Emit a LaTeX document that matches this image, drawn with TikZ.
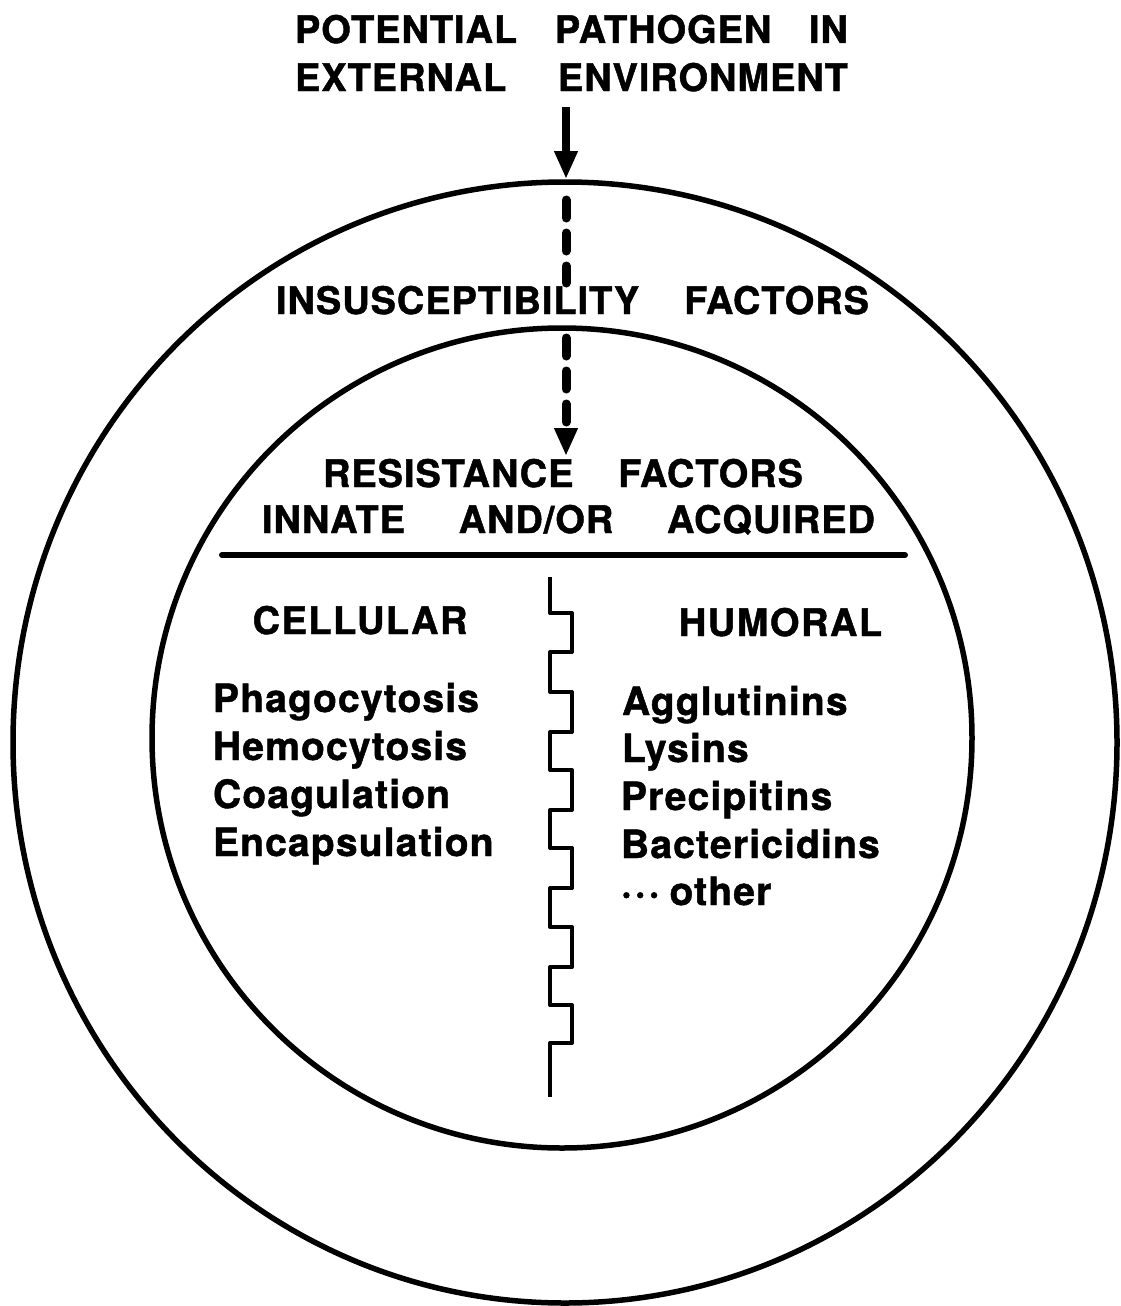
\documentclass[tikz,border=0pt]{standalone}
\usepackage{fontspec}
\setmainfont{TeX Gyre Heros}
\usetikzlibrary{arrows.meta}
\newcommand{\capsfnt}{\fontsize{38}{42}\selectfont\bfseries\addfontfeatures{LetterSpace=2.5,FakeBold=1.2}}
\newcommand{\headfnt}{\fontsize{38}{42}\selectfont\bfseries\addfontfeatures{LetterSpace=4,FakeBold=1.2}}
\newcommand{\listfnt}{\fontsize{39}{43}\selectfont\bfseries\addfontfeatures{LetterSpace=3,FakeBold=1.2}}
\begin{document}
\begin{tikzpicture}[x=1pt,y=-1pt,
  every node/.style={inner sep=0pt,outer sep=0pt},
  caps/.style={font=\capsfnt,anchor=base},
  head/.style={font=\headfnt,anchor=base},
  item/.style={font=\listfnt,anchor=base west},
  ring/.style={line width=5.5pt},
  solidarrow/.style={line width=8pt,-{Triangle[width=22pt,length=28pt]}},
  dashseg/.style={line width=9pt,line cap=round,dash pattern=on 18pt off 15pt},
  dasharrow/.style={line width=9pt,line cap=round,dash pattern=on 18pt off 15pt,-{Triangle[width=22pt,length=28pt]}},
  zig/.style={line width=4pt,line join=round}]
\useasboundingbox (0,0) rectangle (1120,1306);
% circles
\draw[ring] (565,742.5) ellipse [x radius=552pt, y radius=560.5pt];
\draw[ring] (562,738) ellipse [x radius=410pt, y radius=410pt];
% titles
\node[caps] (t1) at (571.5,43) {\makebox[553pt][s]{POTENTIAL PATHOGEN IN}};
\node[caps] (t2) at (571.5,91) {\makebox[553pt][s]{EXTERNAL ENVIRONMENT}};
\node[caps] (ins) at (572.5,314) {\makebox[593pt][s]{INSUSCEPTIBILITY FACTORS}};
\node[caps] (res1) at (563,487) {\makebox[480pt][s]{RESISTANCE FACTORS}};
\node[caps] (res2) at (568.5,533) {\makebox[613pt][s]{INNATE AND/OR ACQUIRED}};
% divider
\coordinate (divL) at (222,555);
\coordinate (divR) at (905,555);
\draw[line width=6pt,line cap=round] (divL) -- (divR);
% column heads
\node[head] (cel) at (360,634) {CELLULAR};
\node[head] (hum) at (780.5,636) {HUMORAL};
% lists
\node[item] (l1) at (213,712) {Phagocytosis};
\node[item] (l2) at (213,760) {Hemocytosis};
\node[item] (l3) at (213,808) {Coagulation};
\node[item] (l4) at (213,856) {Encapsulation};
\node[item] (r1) at (622,715) {Agglutinins};
\node[item] (r2) at (622,762) {Lysins};
\node[item] (r3) at (621,810) {Precipitins};
\node[item] (r4) at (621,858) {Bactericidins};
\node[item] (r5) at (621,905) {·\hspace{3pt}·\hspace{3pt}·\hspace{10pt}other};
% arrows
\coordinate (a0) at (566,107);
\coordinate (a1) at (566,179);
\coordinate (d0) at (566,200);
\coordinate (d1) at (566,283);
\coordinate (e0) at (566,338);
\coordinate (e1) at (566,456);
\draw[solidarrow] (a0) -- (a1);
\draw[dashseg] (d0) -- (d1);
\draw[dasharrow] (e0) -- (e1);
% zigzag separator
\coordinate (zTop) at (550,577);
\coordinate (zBot) at (550,1097);
\draw[zig] (zTop) -- (550,613) -- (572,613) -- (572,652) -- (550,652)
  -- (550,692) -- (572,692) -- (572,732) -- (550,732)
  -- (550,770) -- (572,770) -- (572,810) -- (550,810)
  -- (550,848) -- (572,848) -- (572,888) -- (550,888)
  -- (550,927) -- (572,927) -- (572,967) -- (550,967)
  -- (550,1005) -- (572,1005) -- (572,1043) -- (550,1043) -- (zBot);
\end{tikzpicture}
\end{document}
